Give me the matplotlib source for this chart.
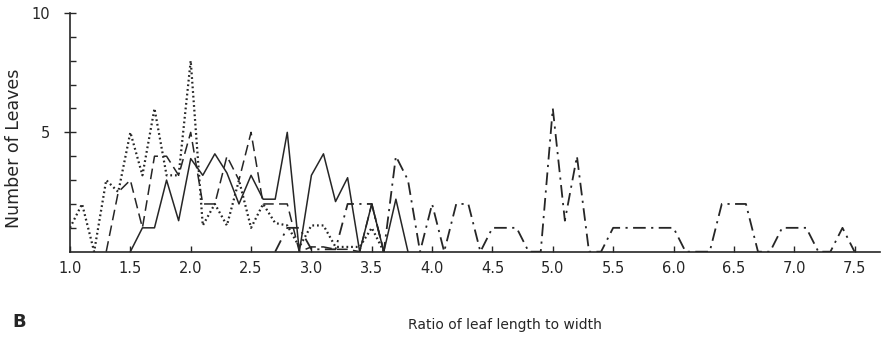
import matplotlib
matplotlib.use("Agg")
import matplotlib.pyplot as plt
import numpy as np

_ = np.nan

# leaf length/width ratio classes (x) and counts per sample (y)
RATIO = [1.0, 1.1, 1.2, 1.3, 1.4, 1.5, 1.6, 1.7, 1.8, 1.9,
         2.0, 2.1, 2.2, 2.3, 2.4, 2.5, 2.6, 2.7, 2.8, 2.9,
         3.0, 3.1, 3.2, 3.3, 3.4, 3.5, 3.6, 3.7, 3.8, 3.9,
         4.0, 4.1, 4.2, 4.3, 4.4, 4.5, 4.6, 4.7, 4.8, 4.9,
         5.0, 5.1, 5.2, 5.3, 5.4, 5.5, 5.6, 5.7, 5.8, 5.9,
         6.0, 6.1, 6.2, 6.3, 6.4, 6.5, 6.6, 6.7, 6.8, 6.9,
         7.0, 7.1, 7.2, 7.3, 7.4, 7.5]

SOLID = [_, _, _, _, _, 0, 1, 1, 3, 1.3,
         3.9, 3.2, 4.1, 3.3, 2, 3.2, 2.2, 2.2, 5, 0,
         3.2, 4.1, 2.1, 3.1, 0, 2, 0, 2.2, 0, _,
         _, _, _, _, _, _, _, _, _, _,
         _, _, _, _, _, _, _, _, _, _,
         _, _, _, _, _, _, _, _, _, _,
         _, _, _, _, _, _]

DASHED = [_, _, _, 0, 2.5, 3, 1, 4, 4, 3.2,
          5, 2, 2, 4, 3, 5, 2, 2, 2, 0,
          0.2, 0.2, 0.1, 0.1, 0, 2, 0, _, _, _,
          _, _, _, _, _, _, _, _, _, _,
          _, _, _, _, _, _, _, _, _, _,
          _, _, _, _, _, _, _, _, _, _,
          _, _, _, _, _, _]

DOTTED = [1, 2, 0, 3, 2.5, 5, 3.2, 6, 3.2, 3.2,
          8, 1.1, 2, 1.1, 3, 1, 2, 1.2, 1.1, 0.2,
          1.1, 1.1, 0.2, 0.2, 0.2, 1, 0, _, _, _,
          _, _, _, _, _, _, _, _, _, _,
          _, _, _, _, _, _, _, _, _, _,
          _, _, _, _, _, _, _, _, _, _,
          _, _, _, _, _, _]

DASHDOT = [_, _, _, _, _, _, _, _, _, _,
           _, _, _, _, _, _, _, 0, 1, 1,
           0.1, 0.1, 0.1, 2, 2, 2, 0, 4, 3, 0,
           2, 0, 2, 2, 0, 1, 1, 1, 0, 0,
           6, 1.3, 4, 0, 0, 1, 1, 1, 1, 1,
           1, 0, 0, 0, 2, 2, 2, 0, 0, 1,
           1, 1, 0, 0, 1, 0]

XTICKS = [1.0, 1.5, 2.0, 2.5, 3.0, 3.5, 4.0, 4.5, 5.0, 5.5, 6.0, 6.5, 7.0, 7.5]
XTICKLABELS = ["1.0", "1.5", "2.0", "2.5", "3.0", "3.5", "4.0",
               "4.5", "5.0", "5.5", "6.0", "6.5", "7.0", "7.5"]

INK = "#262626"

fig = plt.figure(figsize=(8.92, 3.37), dpi=100)
ax = fig.add_axes([70/892, 1 - 251.7/337, 810/892, 238.7/337])

x = np.array(RATIO)
ax.plot(x, np.array(SOLID, float), color=INK, lw=1.1, ls="-")
ax.plot(x, np.array(DASHED, float), color=INK, lw=1.1, ls=(0, (7, 3.5)))
ax.plot(x, np.array(DOTTED, float), color=INK, lw=1.6, ls=(0, (0.8, 1.3)))
ax.plot(x, np.array(DASHDOT, float), color=INK, lw=1.3, ls=(0, (7, 3, 1.2, 3)))

ax.set_xlim(1.0, 1.0 + 810/120.7)
ax.set_ylim(0, 10)
for s in ("top", "right"):
    ax.spines[s].set_visible(False)
for s in ("left", "bottom"):
    ax.spines[s].set_color(INK)
    ax.spines[s].set_linewidth(1.2)

ax.set_xticks(XTICKS)
ax.set_xticklabels(XTICKLABELS, fontsize=10.5)
ax.tick_params(axis="x", direction="in", length=4, width=1, color=INK,
               pad=7, labelcolor=INK)
ax.set_yticks([5, 10])
ax.set_yticklabels(["5", "10"], fontsize=10.5)
ax.set_yticks([1, 2, 3, 4, 6, 7, 8, 9], minor=True)
ax.tick_params(axis="y", which="major", direction="inout", length=9, width=1,
               color=INK, pad=10, labelcolor=INK)
ax.tick_params(axis="y", which="minor", direction="in", length=4, width=1,
               color=INK)

fig.text(14/892, 1 - 148/337, "Number of Leaves", rotation=90,
         ha="center", va="center", fontsize=12.5, color=INK)
fig.text(505/892, 1 - 325/337, "Ratio of leaf length to width",
         ha="center", va="center", fontsize=10, color=INK)
fig.text(12/892, 1 - 322/337, "B", ha="left", va="center",
         fontsize=13, fontweight="bold", color=INK)

fig.savefig("out.png", dpi=100, facecolor="white")
